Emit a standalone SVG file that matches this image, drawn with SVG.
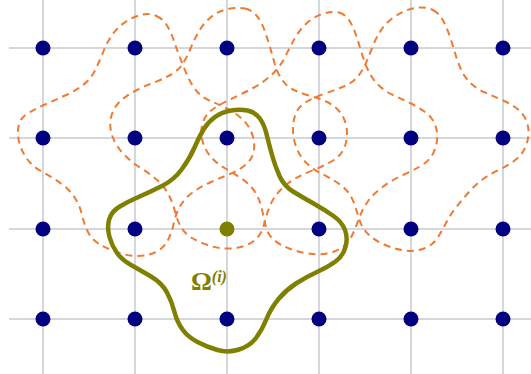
<svg xmlns="http://www.w3.org/2000/svg" width="531" height="374" viewBox="0 0 531 374">
<style>
.grid line{stroke:#d6d6de;stroke-width:2}
.node circle{fill:#000080}
.dom{fill:none;stroke:#f07a32;stroke-width:2;stroke-dasharray:7 5}
.main{fill:none;stroke:#7f7f00;stroke-width:4.5;stroke-linejoin:round}
.lbl{font-family:"Liberation Serif",serif;font-weight:bold;fill:#7f7f00}
</style>
<rect width="531" height="374" fill="#ffffff"/>
<g class="grid" id="grid">
<line x1="43" y1="0" x2="43" y2="374"/>
<line x1="135" y1="0" x2="135" y2="374"/>
<line x1="227" y1="0" x2="227" y2="374"/>
<line x1="319" y1="0" x2="319" y2="374"/>
<line x1="411" y1="0" x2="411" y2="374"/>
<line x1="503" y1="0" x2="503" y2="374"/>
<line x1="9" y1="48" x2="531" y2="48"/>
<line x1="9" y1="138" x2="531" y2="138"/>
<line x1="9" y1="229" x2="531" y2="229"/>
<line x1="9" y1="319" x2="531" y2="319"/>
</g>
<g id="connectors">
<path id="domA" class="dom" d="M156.5,16 Q163,19 167,25.5 Q171,32 174,41 Q177,50 180.5,59 Q184,68 188,77 Q192,86 197.5,92 Q203,98 210.5,101 Q218,104 226,108 Q234,112 241,118 Q248,124 251.5,132.5 Q255,141 254,149.5 Q253,158 246.5,164 Q240,170 230,174 Q220,178 210,182.5 Q200,187 192.5,192.5 Q185,198 180.5,205.5 Q176,213 174,222.5 Q172,232 168,240 Q164,248 156,252 Q148,256 138,256 Q128,256 118,252.5 Q108,249 100,244.5 Q92,240 88,232 Q84,224 82,215 Q80,206 75,198 Q70,190 61,183.5 Q52,177 42.5,172 Q33,167 27.5,159.5 Q22,152 19.5,143.5 Q17,135 18.5,126.5 Q20,118 27.5,113.5 Q35,109 45,104.5 Q55,100 65,95.5 Q75,91 83,85 Q91,79 95.5,69.5 Q100,60 104,50 Q108,40 114,32.5 Q120,25 127.5,20.5 Q135,16 142.5,14.5 Q150,13 156.5,16 Z"/>
<path id="domB" class="dom" d="M245,8.5 Q252,10 256.5,15.5 Q261,21 264,29 Q267,37 269.5,45.5 Q272,54 274.5,63 Q277,72 281.5,79 Q286,86 293,89.5 Q300,93 309,95.5 Q318,98 326,101.5 Q334,105 339.5,111.5 Q345,118 346.5,127.5 Q348,137 345,146 Q342,155 333,160.5 Q324,166 313.5,170 Q303,174 294.5,179 Q286,184 279.5,191 Q273,198 269.5,207 Q266,216 264,224.5 Q262,233 256.5,238.5 Q251,244 242.5,246.5 Q234,249 225,248.5 Q216,248 207.5,245 Q199,242 192,238 Q185,234 181,227 Q177,220 175,211.5 Q173,203 168.5,194.5 Q164,186 156.5,179.5 Q149,173 140,167.5 Q131,162 123.5,154 Q116,146 112.5,136.5 Q109,127 111,117.5 Q113,108 120,101.5 Q127,95 136,90.5 Q145,86 154,82.5 Q163,79 170.5,75 Q178,71 182.5,64 Q187,57 190.5,48.5 Q194,40 198.5,32 Q203,24 210.5,17.5 Q218,11 228,9 Q238,7 245,8.5 Z"/>
<path id="domC" class="dom" d="M339,12.5 Q345,14 349,20 Q353,26 356,35 Q359,44 362,54 Q365,64 369,72 Q373,80 379.5,86 Q386,92 394,95.5 Q402,99 410,103 Q418,107 425,112 Q432,117 435,124.5 Q438,132 437,140.5 Q436,149 432,155.5 Q428,162 420,166.5 Q412,171 402,175.5 Q392,180 382.5,187 Q373,194 367.5,202 Q362,210 359,218.5 Q356,227 352.5,234.5 Q349,242 342.5,247 Q336,252 327,253.5 Q318,255 308,253.5 Q298,252 289,248.5 Q280,245 274,240 Q268,235 266,227 Q264,219 262,209.5 Q260,200 255,192 Q250,184 241.5,178.5 Q233,173 224.5,168 Q216,163 210.5,156.5 Q205,150 202.5,141 Q200,132 202.5,123.5 Q205,115 212.5,109.5 Q220,104 231,99 Q242,94 253,88 Q264,82 272,74.5 Q280,67 285,57 Q290,47 295,38 Q300,29 307.5,22.5 Q315,16 324,13.5 Q333,11 339,12.5 Z"/>
<path id="domD" class="dom" d="M433,10 Q439,13 443,20.5 Q447,28 450,37 Q453,46 455.5,54.5 Q458,63 461.5,70.5 Q465,78 471,83.5 Q477,89 485,92.5 Q493,96 501,99.5 Q509,103 515.5,107.5 Q522,112 525.5,119 Q529,126 528.5,134 Q528,142 524.5,149 Q521,156 514,161 Q507,166 498.5,170 Q490,174 482.5,179.5 Q475,185 468.5,192.5 Q462,200 456,207.5 Q450,215 446,223 Q442,231 437.5,238 Q433,245 424,248.5 Q415,252 404.5,250.5 Q394,249 384,244.5 Q374,240 368,234 Q362,228 359.5,220 Q357,212 354.5,204.5 Q352,197 347.5,191.5 Q343,186 335.5,181.5 Q328,177 319.5,172.5 Q311,168 305,161.5 Q299,155 296,146.5 Q293,138 293,129 Q293,120 296,113 Q299,106 307,101.5 Q315,97 325,93.5 Q335,90 343.5,86.5 Q352,83 357,77.5 Q362,72 365.5,64 Q369,56 372.5,47 Q376,38 380.5,31 Q385,24 391.5,19 Q398,14 405,11 Q412,8 419.5,7.5 Q427,7 433,10 Z"/>
<path id="omega" class="main" d="M247.5,110.5 Q255,112 259.5,118 Q264,124 266.5,134 Q269,144 272,155 Q275,166 279.5,176 Q284,186 293,191.5 Q302,197 313.5,203.5 Q325,210 333.5,216 Q342,222 345,230 Q348,238 345.5,247 Q343,256 335.5,261.5 Q328,267 317,272 Q306,277 296,283.5 Q286,290 278.5,299 Q271,308 266.5,319 Q262,330 256,338 Q250,346 239,349.5 Q228,353 217.5,350 Q207,347 197.5,342 Q188,337 182.5,329.5 Q177,322 174.5,312 Q172,302 167,292.5 Q162,283 151,276.5 Q140,270 131,265 Q122,260 117,253 Q112,246 109.5,237 Q107,228 109,220 Q111,212 119,207 Q127,202 138.5,197 Q150,192 162,186 Q174,180 182,169 Q190,158 194.5,147.5 Q199,137 203.5,129.5 Q208,122 215,117 Q222,112 231,110.5 Q240,109 247.5,110.5 Z"/>
</g>
<g class="node" id="n11"><circle cx="43" cy="48" r="7.5"/></g>
<g class="node" id="n12"><circle cx="135" cy="48" r="7.5"/></g>
<g class="node" id="n13"><circle cx="227" cy="48" r="7.5"/></g>
<g class="node" id="n14"><circle cx="319" cy="48" r="7.5"/></g>
<g class="node" id="n15"><circle cx="411" cy="48" r="7.5"/></g>
<g class="node" id="n16"><circle cx="503" cy="48" r="7.5"/></g>
<g class="node" id="n21"><circle cx="43" cy="138" r="7.5"/></g>
<g class="node" id="n22"><circle cx="135" cy="138" r="7.5"/></g>
<g class="node" id="n23"><circle cx="227" cy="138" r="7.5"/></g>
<g class="node" id="n24"><circle cx="319" cy="138" r="7.5"/></g>
<g class="node" id="n25"><circle cx="411" cy="138" r="7.5"/></g>
<g class="node" id="n26"><circle cx="503" cy="138" r="7.5"/></g>
<g class="node" id="n31"><circle cx="43" cy="229" r="7.5"/></g>
<g class="node" id="n32"><circle cx="135" cy="229" r="7.5"/></g>
<g class="node" id="n33"><circle cx="227" cy="229" r="7.5" style="fill:#7f7f00"/></g>
<g class="node" id="n34"><circle cx="319" cy="229" r="7.5"/></g>
<g class="node" id="n35"><circle cx="411" cy="229" r="7.5"/></g>
<g class="node" id="n36"><circle cx="503" cy="229" r="7.5"/></g>
<g class="node" id="n41"><circle cx="43" cy="319" r="7.5"/></g>
<g class="node" id="n42"><circle cx="135" cy="319" r="7.5"/></g>
<g class="node" id="n43"><circle cx="227" cy="319" r="7.5"/></g>
<g class="node" id="n44"><circle cx="319" cy="319" r="7.5"/></g>
<g class="node" id="n45"><circle cx="411" cy="319" r="7.5"/></g>
<g class="node" id="n46"><circle cx="503" cy="319" r="7.5"/></g>
<g id="label">
<text class="lbl" x="191" y="290" font-size="26">Ω<tspan font-size="16" dy="-8" font-style="italic">(i)</tspan></text>
</g>
</svg>
